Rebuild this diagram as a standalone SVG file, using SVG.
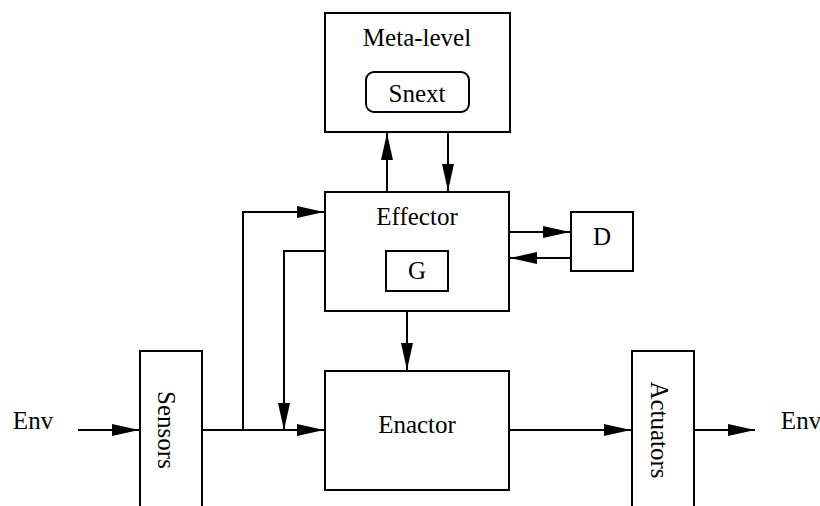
<svg xmlns="http://www.w3.org/2000/svg" width="820" height="506" viewBox="0 0 820 506">
<style>
.box{fill:#fff;stroke:#000;stroke-width:2}
.lbl{font-family:"Liberation Serif","Times New Roman",serif;font-size:25px;fill:#000;text-anchor:middle}
.con{fill:none;stroke:#000;stroke-width:2}
</style>
<defs>
<marker id="ah" markerUnits="userSpaceOnUse" markerWidth="28" markerHeight="12" refX="27" refY="6" orient="auto">
<path d="M0,0 L27,6 L0,12 z" fill="#000"/>
</marker>
</defs>
<rect width="820" height="506" fill="#fff"/>
<g id="connectors">
<path class="con" d="M78,430 L139,430" marker-end="url(#ah)"/>
<path class="con" d="M201,430 L324,430" marker-end="url(#ah)"/>
<path class="con" d="M243,430 L243,212 L324,212" marker-end="url(#ah)"/>
<path class="con" d="M325,251 L284,251 L284,430" marker-end="url(#ah)"/>
<path class="con" d="M387,192 L387,133" marker-end="url(#ah)"/>
<path class="con" d="M448,132 L448,191" marker-end="url(#ah)"/>
<path class="con" d="M509,232 L570,232" marker-end="url(#ah)"/>
<path class="con" d="M571,258 L510,258" marker-end="url(#ah)"/>
<path class="con" d="M407,311 L407,370" marker-end="url(#ah)"/>
<path class="con" d="M509,430 L631,430" marker-end="url(#ah)"/>
<path class="con" d="M694,430 L755,430" marker-end="url(#ah)"/>
</g>
<g id="meta">
<rect class="box" x="325" y="13" width="185" height="119"/>
<text class="lbl" x="417" y="46">Meta-level</text>
</g>
<g id="snext">
<rect class="box" x="366" y="72" width="103" height="40" rx="8"/>
<text class="lbl" x="417" y="102">Snext</text>
</g>
<g id="effector">
<rect class="box" x="325" y="192" width="184" height="119"/>
<text class="lbl" x="417" y="225">Effector</text>
</g>
<g id="g">
<rect class="box" x="386" y="251" width="62" height="40"/>
<text class="lbl" x="417" y="279">G</text>
</g>
<g id="d">
<rect class="box" x="571" y="212" width="62" height="59"/>
<text class="lbl" x="602" y="245">D</text>
</g>
<g id="enactor">
<rect class="box" x="325" y="371" width="184" height="119"/>
<text class="lbl" x="417" y="433">Enactor</text>
</g>
<g id="sensors">
<rect class="box" x="140" y="351" width="62" height="165"/>
<text class="lbl" transform="translate(158,430) rotate(90)" x="0" y="0">Sensors</text>
</g>
<g id="actuators">
<rect class="box" x="632" y="351" width="62" height="165"/>
<text class="lbl" transform="translate(651,430) rotate(90)" x="0" y="0">Actuators</text>
</g>
<g id="env-in">
<text class="lbl" x="33" y="429">Env</text>
</g>
<g id="env-out">
<text class="lbl" x="801" y="429">Env</text>
</g>
</svg>
